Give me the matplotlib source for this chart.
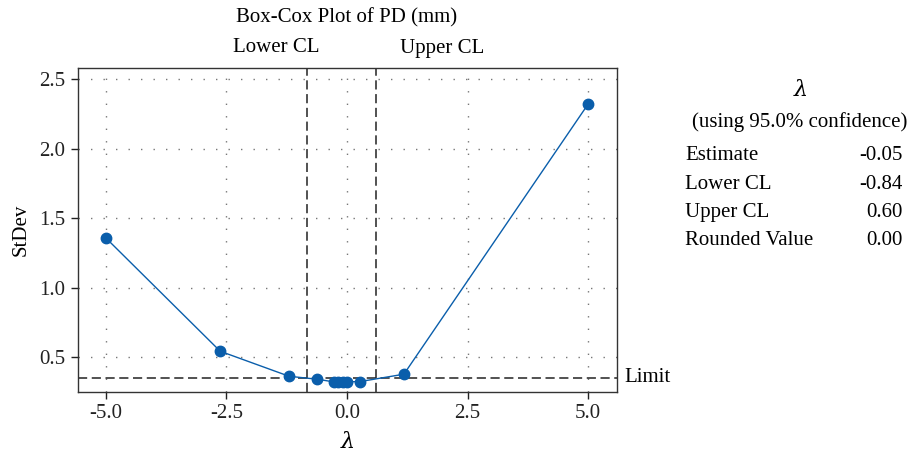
import matplotlib
matplotlib.use("Agg")
import matplotlib.pyplot as plt

plt.rcParams['font.family'] = ['Liberation Serif', 'DejaVu Serif']
plt.rcParams['mathtext.fontset'] = 'dejavuserif'

# Data
lambdas = [-5.0, -2.63, -1.2, -0.62, -0.28, -0.18, -0.09, 0.0, 0.27, 1.18, 5.0]
stdev = [1.357, 0.543, 0.363, 0.342, 0.323, 0.323, 0.323, 0.323, 0.325, 0.378, 2.32]
lower_cl = -0.84
upper_cl = 0.60
limit = 0.349
xticks = [-5.0, -2.5, 0.0, 2.5, 5.0]
yticks = [0.5, 1.0, 1.5, 2.0, 2.5]
table_labels = ["Estimate", "Lower CL", "Upper CL", "Rounded Value"]
table_values = ["-0.05", "-0.84", "0.60", "0.00"]

W, H = 919, 457
FS = 15
fig = plt.figure(figsize=(W / 100, H / 100), dpi=100)
ax = fig.add_axes([78 / W, 1 - 392 / H, (617 - 78) / W, (392 - 68) / H])

ax.set_xlim(-5.58, 5.6)
ax.set_ylim(0.25, 2.58)
ax.set_xticks(xticks)
ax.set_xticklabels([f"{t:.1f}" for t in xticks])
ax.set_yticks(yticks)
ax.set_yticklabels([f"{t:.1f}" for t in yticks])
ax.tick_params(direction='out', length=5, width=1, labelsize=FS, colors='#222222', pad=4)

for t in xticks:
    ax.axvline(t, color='#777777', linestyle=(0, (1, 8)), linewidth=1, zorder=0)
for t in yticks:
    ax.axhline(t, color='#777777', linestyle=(0, (1, 8)), linewidth=1, zorder=0)

dash = (0, (6, 3))
ax.axvline(lower_cl, color='#222222', linestyle=dash, linewidth=1.1)
ax.axvline(upper_cl, color='#222222', linestyle=dash, linewidth=1.1)
ax.axhline(limit, color='#222222', linestyle=dash, linewidth=1.1)

ax.plot(lambdas, stdev, color='#0a5eab', linewidth=1, marker='o', markersize=7.5, zorder=3)

for s in ax.spines.values():
    s.set_color('#333333')
    s.set_linewidth(1)

ax.set_ylabel("StDev", fontsize=FS, labelpad=6)
ax.set_xlabel("$\\lambda$", fontsize=16, labelpad=6)

fig.text(347 / W, 1 - 18 / H, "Box-Cox Plot of PD (mm)", ha='center', va='center', fontsize=FS)
fig.text(276 / W, 1 - 48 / H, "Lower CL", ha='center', va='center', fontsize=FS)
fig.text(442 / W, 1 - 48 / H, "Upper CL", ha='center', va='center', fontsize=FS)
fig.text(624 / W, 1 - 378 / H, "Limit", ha='left', va='center', fontsize=FS)

fig.text(800 / W, 1 - 90 / H, "$\\lambda$", ha='center', va='center', fontsize=16)
fig.text(800 / W, 1 - 122 / H, "(using 95.0% confidence)", ha='center', va='center', fontsize=FS)
for i, (lab, val) in enumerate(zip(table_labels, table_values)):
    y = 1 - (156 + i * 28.3) / H
    fig.text(685 / W, y, lab, ha='left', va='center', fontsize=FS)
    fig.text(903 / W, y, val, ha='right', va='center', fontsize=FS)

fig.savefig("out.png", dpi=100)
